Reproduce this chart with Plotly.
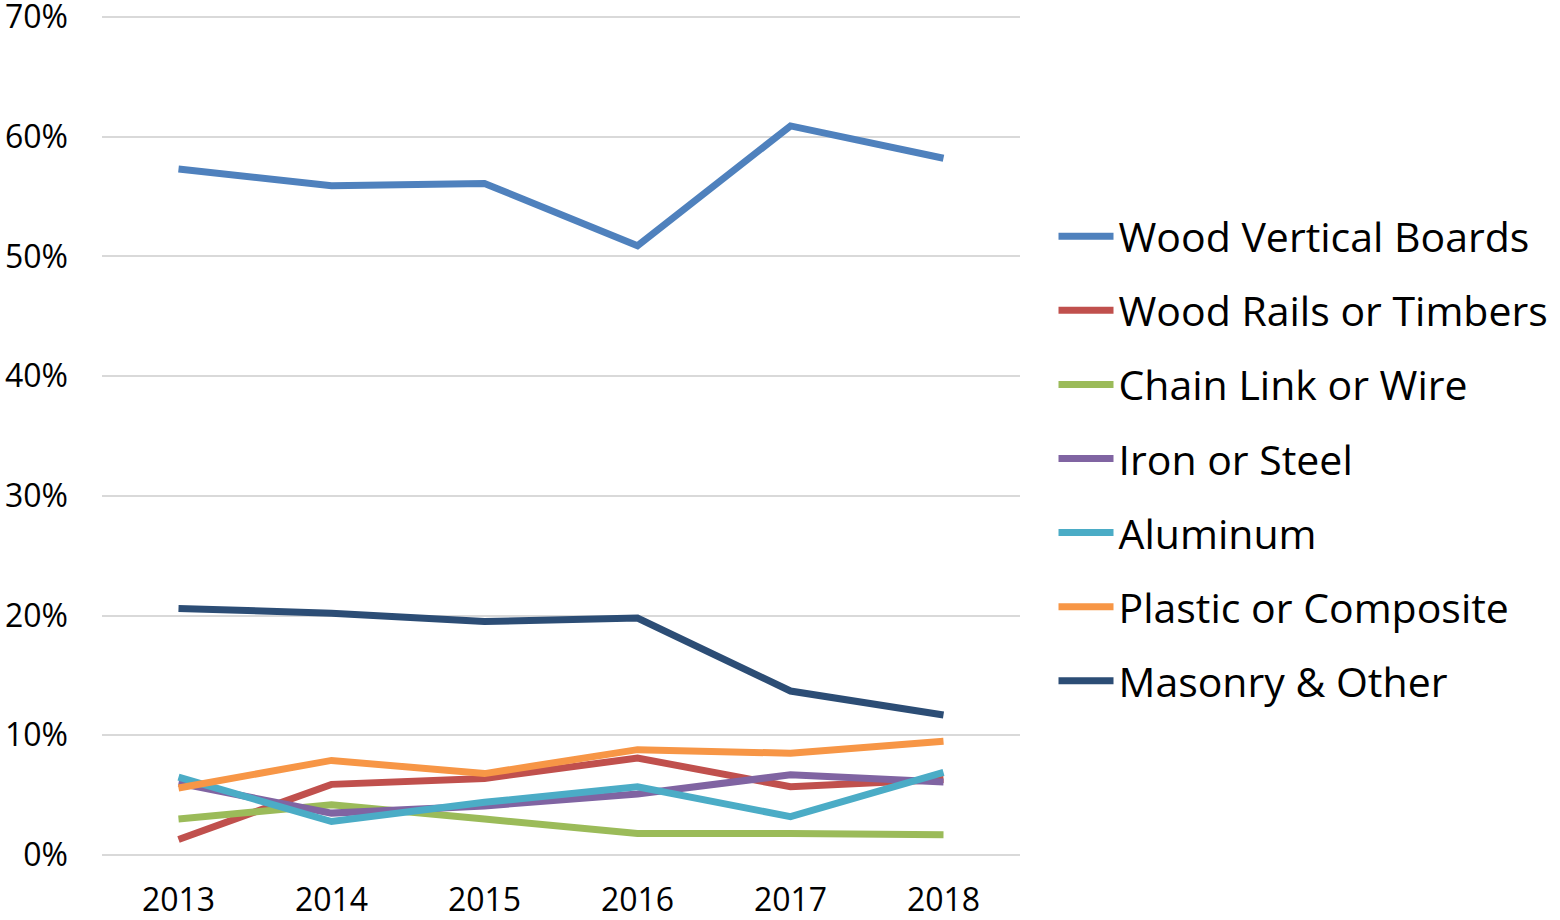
import plotly.graph_objects as go

years = ["2013", "2014", "2015", "2016", "2017", "2018"]
wood_vertical = [57.3, 55.9, 56.1, 50.9, 60.9, 58.2]
wood_rails = [1.3, 5.9, 6.4, 8.1, 5.7, 6.3]
chain_link = [3.0, 4.2, 3.0, 1.8, 1.8, 1.7]
iron_steel = [6.0, 3.5, 4.1, 5.1, 6.7, 6.1]
aluminum = [6.5, 2.8, 4.4, 5.7, 3.2, 6.9]
plastic = [5.6, 7.9, 6.8, 8.8, 8.5, 9.5]
masonry = [20.6, 20.2, 19.5, 19.8, 13.7, 11.7]
y_ticks = [0, 0.1, 0.2, 0.3, 0.4, 0.5, 0.6, 0.7]

series = [
    ("Wood Vertical Boards", wood_vertical, "#4F81BD"),
    ("Wood Rails or Timbers", wood_rails, "#C0504D"),
    ("Chain Link or Wire", chain_link, "#9BBB59"),
    ("Iron or Steel", iron_steel, "#8064A2"),
    ("Aluminum", aluminum, "#4BACC6"),
    ("Plastic or Composite", plastic, "#F79646"),
    ("Masonry & Other", masonry, "#2C4D75"),
]

fig = go.Figure()
for i, (name, vals, color) in enumerate(series):
    fig.add_trace(go.Scatter(
        x=years, y=[v / 100 for v in vals], name=name, mode="lines",
        line=dict(color=color, width=7), legendgroup=f"g{i}",
    ))

font_family = "Open Sans, Liberation Sans, sans-serif"
fig.update_layout(
    width=1560, height=920,
    margin=dict(l=102, r=540, t=14, b=62, autoexpand=False),
    paper_bgcolor="white", plot_bgcolor="white",
    font=dict(family=font_family, color="black"),
    showlegend=True,
    legend=dict(
        x=1.0365, xanchor="left", y=0.776, yanchor="top",
        font=dict(size=41, family=font_family, color="black"),
        tracegroupgap=17.8, itemwidth=55,
        bgcolor="rgba(0,0,0,0)",
    ),
    xaxis=dict(
        type="category", range=[-0.5, 5.5], showgrid=False, zeroline=False,
        showline=False, ticks="", tickfont=dict(size=32),
        ticklabelstandoff=20, automargin=False,
    ),
    yaxis=dict(
        range=[-0.0025, 0.7025], tickmode="array", tickvals=y_ticks,
        tickformat=".0%", showgrid=True,
        gridcolor="#D9D9D9", gridwidth=2, zeroline=False, showline=False,
        ticks="", tickfont=dict(size=32), ticklabelstandoff=33,
        ticklabeloverflow="allow", automargin=False,
    ),
)

fig.write_html(
    "out.html",
    config={"displayModeBar": False},
    post_script="document.body.style.margin='0';",
)
